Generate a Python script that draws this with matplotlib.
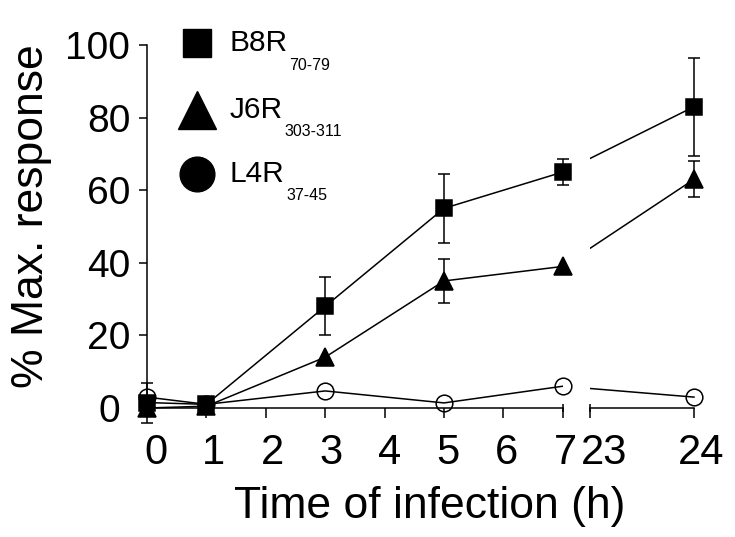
import numpy as np
import matplotlib.pyplot as plt
import matplotlib.transforms as mtransforms

plt.rcParams['font.family'] = ['Liberation Sans', 'DejaVu Sans']

# time points (h) and responses (% of max)
times = [0, 1, 3, 5, 7, 24]
b8r = [1.5, 1, 28, 55, 65, 83]
b8r_err = [5.5, 0, 8, 9.5, 3.5, 13.5]
j6r = [0, 0.5, 14, 35, 39, 63]
j6r_err = [0, 0, 0, 6, 0, 5]
l4r = [3, 1, 4.7, 1.4, 6, 3]

tick_times = [0, 1, 2, 3, 4, 5, 6, 7, 23, 24]
tick_labels = ['0', '1', '2', '3', '4', '5', '6', '7', '23', '24']
# small horizontal nudges (px) of the x tick labels, as in the original
label_dx = [9, 7, 6.5, 6, 5, 3.5, 3, 2.5, 14.5, 7]

# broken x axis: 0-7 linear, then 23-24 on a stretched scale after a gap
BREAK_LO, BREAK_HI = 7, 23
GAP = 0.455
LATE = 1.754


def xpos(t):
    t = np.asarray(t, dtype=float)
    return np.where(t <= BREAK_LO, t, BREAK_LO + GAP + (t - BREAK_HI) * LATE)


W, H = 735, 537
fig = plt.figure(figsize=(W / 100, H / 100), dpi=100)
ax = fig.add_axes([147 / W, 1 - 408 / H, (694 - 147) / W, (408 - 45) / H])

x = xpos(times)
series = [
    (b8r, b8r_err, 's', 'k', 12.2),
    (j6r, j6r_err, '^', 'k', 12.8),
    (l4r, None, 'o', 'none', 12.0),
]
for ys, errs, m, fc, ms in series:
    ax.plot(x, ys, '-', color='k', lw=1.1, zorder=2, clip_on=False)
    if errs is not None:
        errs = np.asarray(errs)
        keep = errs > 0
        ax.errorbar(x[keep], np.asarray(ys)[keep], yerr=errs[keep], fmt='none',
                    ecolor='k', elinewidth=1.1, capsize=4, capthick=1.1,
                    zorder=4, clip_on=False)
    ax.plot(x, ys, ls='none', marker=m, ms=ms, mfc=fc, mec='k', mew=1.1,
            zorder=5, clip_on=False)

# blank the lines across the break
ax.axvspan(float(xpos(BREAK_LO)), float(xpos(BREAK_HI)), ymin=0.012, ymax=1,
           color='white', zorder=3, lw=0)

ax.set_xlim(0, float(xpos(24)))
ax.set_ylim(0, 100)

ax.spines['top'].set_visible(False)
ax.spines['right'].set_visible(False)
ax.spines['bottom'].set_visible(False)
ax.spines['left'].set_linewidth(1.1)

# two x-axis segments with break caps
for a, b in [(0, BREAK_LO), (BREAK_HI, 24)]:
    ax.plot([float(xpos(a)), float(xpos(b))], [0, 0], color='k', lw=1.1,
            clip_on=False, zorder=1)
ax.plot(xpos([BREAK_LO, BREAK_HI]), [0, 0], ls='none', marker='|', ms=6,
        mew=1.1, color='k', clip_on=False, zorder=1)

ax.set_xticks(xpos(tick_times))
ax.set_xticklabels(tick_labels, fontsize=30)
ax.set_yticks([0, 20, 40, 60, 80, 100])
ax.tick_params(axis='x', length=7, width=1.1, pad=11)
ax.tick_params(axis='y', length=6, width=1.1, pad=6, labelsize=28)

for lab, dx in zip(ax.get_xticklabels(), label_dx):
    lab.set_transform(lab.get_transform() +
                      mtransforms.ScaledTranslation(dx / 100, 0, fig.dpi_scale_trans))
ylab0 = ax.get_yticklabels()[0]
ylab0.set_transform(ylab0.get_transform() +
                    mtransforms.ScaledTranslation(-0.1, 0, fig.dpi_scale_trans))

ax.set_xlabel('Time of infection (h)', fontsize=32)
ax.xaxis.set_label_coords(0.517, -0.215)
ax.set_ylabel('% Max. response', fontsize=32)
ax.yaxis.set_label_coords(-0.174, 0.5275)

# legend drawn by hand (markers + labels with subscripts)
legend = [('B8R', '70-79', 's', 43, 20),
          ('J6R', '303-311', '^', 110, 28),
          ('L4R', '37-45', 'o', 174, 25)]
for name, sub, m, py, ms in legend:
    fy = 1 - py / H
    ax.plot([197 / W], [fy], marker=m, ms=ms, color='k', transform=fig.transFigure,
            clip_on=False)
    t = fig.text(230 / W, fy, name, fontsize=21.5, va='center', ha='left')
    ax.annotate(sub, xy=(1, 0), xycoords=t, xytext=(1, -9), textcoords='offset points',
                fontsize=11.5, va='baseline', ha='left')

fig.savefig('out.png', dpi=100)
